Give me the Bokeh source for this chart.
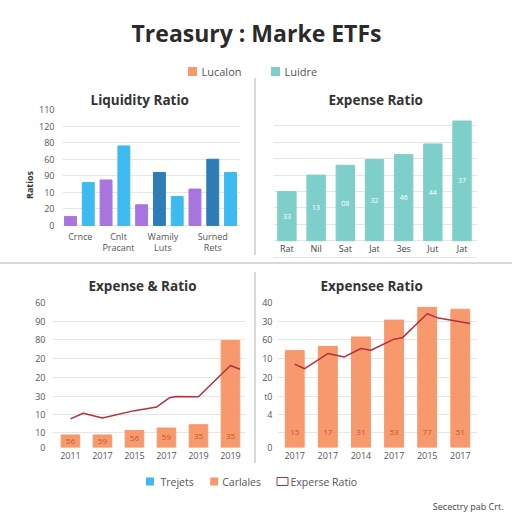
from bokeh.plotting import figure
from bokeh.layouts import column, row
from bokeh.models import FixedTicker, SingleIntervalTicker, Range1d, ColumnDataSource, Spacer
from bokeh.embed import file_html
from bokeh.resources import INLINE
from bokeh.core.properties import value

# ---------------- data ----------------
chart_title = "Treasury : Marke ETFs"
top_legend_labels = ["Lucalon", "Luidre"]

liq_title = "Liquidity Ratio"
liq_values = [11, 52, 55, 96, 25, 64, 35, 44, 80, 64]
liq_kinds = ["p", "b", "p", "b", "p", "d", "b", "p", "d", "b"]
liq_cat_labels = ["Crnce", "Cnlt\nPracant", "Wamily\nLuts", "Surned\nRets"]
liq_cat_pos = [1.55, 3.7, 6.2, 9.0]
liq_tick_values = [0, 20, 40, 60, 80, 100, 120, 140]
liq_tick_labels = ["0", "20", "10", "90", "60", "80", "120", "110"]
liq_axis_label = "Ratios"

exp_title = "Expense Ratio"
exp_months = ["Rat", "Nil", "Sat", "Jat", "3es", "Jut", "Jat"]
exp_values = [60, 80, 92, 99, 105, 118, 146]
exp_bar_labels = ["33", "13", "08", "32", "46", "44", "37"]

bl_title = "Expense & Ratio"
bl_years = ["2011", "2017", "2015", "2017", "2019", "2019"]
bl_bars = [6.7, 6.7, 9.1, 10.4, 12.2, 57.2]
bl_bar_labels = ["56", "59", "56", "59", "35", "35"]
bl_line_x = [0, 0.4, 1, 2, 2.7, 3.1, 3.3, 4, 5, 5.3]
bl_line_y = [15.3, 18.3, 15.8, 19.7, 21.7, 26.6, 27.3, 27.1, 43.8, 41.8]
low_tick_values = [0, 8, 17.5, 27.5, 37.5, 47.5, 57.5, 67.5, 77.5]
bl_tick_labels = ["0", "10", "10", "30", "20", "20", "80", "90", "60"]

br_title = "Expensee Ratio"
br_years = ["2017", "2017", "2014", "2017", "2015", "2017"]
br_bars = [51.8, 54, 59.1, 68.1, 74.9, 73.9]
br_bar_labels = ["15", "17", "31", "53", "77", "51"]
br_line_x = [0, 0.3, 1, 1.5, 2, 2.3, 3, 3.25, 4, 4.3, 5.3]
br_line_y = [44.6, 42.1, 50.2, 48.4, 52.9, 52.0, 57.9, 58.6, 71.5, 69.4, 66.3]
br_tick_labels = ["0", "", "4", "t0", "20", "10", "60", "30", "40"]

bottom_legend_labels = ["Trejets", "Carlales", "Experse Ratio"]
source_note = "Secectry pab Crt."

# ---------------- styles ----------------
FONT = "Open Sans"
GRID = "#e6e6e6"
SEP = "#d9d9d9"
PURPLE = "#a874e0"
BLUE = "#3dbaf0"
DARKBLUE = "#2e7db6"
TEAL = "#7ecfca"
ORANGE = "#f7996c"
LINE = "#b3303f"
kind_colors = {"p": PURPLE, "b": BLUE, "d": DARKBLUE}


def base_fig(w, h, xr, yr, ml, mr, mt, mb):
    p = figure(width=w, height=h, x_range=Range1d(*xr), y_range=Range1d(*yr),
               min_border_left=ml, min_border_right=mr,
               min_border_top=mt, min_border_bottom=mb,
               output_backend="svg", toolbar_location=None)
    p.outline_line_color = None
    p.border_fill_color = "white"
    p.background_fill_color = "white"
    p.xgrid.grid_line_color = None
    p.ygrid.grid_line_color = GRID
    p.ygrid.grid_line_width = 1
    for ax in p.axis:
        ax.axis_line_color = None
        ax.major_tick_line_color = None
        ax.minor_tick_line_color = None
        ax.major_tick_out = 0
        ax.major_tick_in = 0
        ax.major_label_text_font = FONT
        ax.major_label_text_font_size = "9px"
        ax.major_label_text_color = "#555555"
    return p


def set_title(p, text, offset, standoff):
    p.title.text = text
    p.title.align = "left"
    p.title.offset = offset
    p.title.standoff = standoff
    p.title.text_font = FONT
    p.title.text_font_size = "13.5px"
    p.title.text_font_style = "bold"
    p.title.text_color = "#333333"


def blank_fig(w, h, xr, yr):
    p = figure(width=w, height=h, x_range=Range1d(*xr), y_range=Range1d(*yr),
               min_border_left=0, min_border_right=0,
               min_border_top=0, min_border_bottom=0,
               output_backend="svg", toolbar_location=None)
    p.axis.visible = False
    p.grid.visible = False
    p.outline_line_color = None
    p.background_fill_color = "white"
    p.border_fill_color = "white"
    return p


# ---------------- header ----------------
hdr = blank_fig(512, 78, (0, 512), (0, 78))
hdr.text(x=[256], y=[46], text=[chart_title], text_align="center", text_baseline="middle",
         text_font=value(FONT), text_font_size="23px", text_font_style="bold",
         text_color="#2a2a2a")
hdr.scatter(x=[192, 275], y=[7, 7], marker="square", size=9,
            color=[ORANGE, TEAL], line_color=None)
hdr.text(x=[201, 284], y=[7, 7], text=top_legend_labels, text_align="left",
         text_baseline="middle", text_font=value(FONT), text_font_size="11px",
         text_color="#555555")

# ---------------- top-left: Liquidity Ratio ----------------
# frame runs lower than the zero line so that the axis (fixed at 0) has room for its labels
tl = base_fig(254, 184, (0.55, 10.56), (-42.2, 140), 62, 14, 31, 2)
set_title(tl, liq_title, 28, 2)
liq_src = ColumnDataSource(dict(x=list(range(1, len(liq_values) + 1)), top=liq_values,
                                color=[kind_colors[k] for k in liq_kinds]))
tl.vbar(x="x", top="top", width=0.67, color="color", source=liq_src)
tl.yaxis.ticker = FixedTicker(ticks=liq_tick_values)
tl.yaxis.major_label_overrides = dict(zip(liq_tick_values, liq_tick_labels))
tl.yaxis.major_label_standoff = 8
tl.yaxis.axis_label = liq_axis_label
tl.yaxis.axis_label_text_font = FONT
tl.yaxis.axis_label_text_font_size = "9px"
tl.yaxis.axis_label_text_font_style = "bold"
tl.yaxis.axis_label_text_color = "#333333"
tl.yaxis.axis_label_standoff = 0
tl.xaxis.fixed_location = 0
tl.xaxis.ticker = FixedTicker(ticks=liq_cat_pos)
tl.xaxis.major_label_overrides = dict(zip(liq_cat_pos, liq_cat_labels))
tl.xaxis.major_label_standoff = 4
tl.xaxis.major_label_text_line_height = 0.9

# ---------------- top-right: Expense Ratio ----------------
tr = base_fig(256, 184, (-0.46, 6.53), (-24.1, 160), 17, 35, 31, 2)
set_title(tr, exp_title, 55, 2)
exp_x = list(range(len(exp_values)))
tr.vbar(x=exp_x, top=exp_values, width=0.63, color=TEAL)
tr.text(x=exp_x, y=[v / 2 for v in exp_values], text=exp_bar_labels, text_align="center",
        text_baseline="middle", text_font=value(FONT), text_font_size="7px",
        text_color="white")
tr.yaxis.visible = False
tr.yaxis.ticker = SingleIntervalTicker(interval=20, num_minor_ticks=0)
tr.xaxis.fixed_location = 0
tr.xaxis.ticker = FixedTicker(ticks=exp_x)
tr.xaxis.major_label_overrides = dict(zip(exp_x, exp_months))
tr.xaxis.major_label_standoff = 1
tr.xaxis.major_label_text_color = "#444444"

# ---------------- bottom-left: Expense & Ratio ----------------
bl = base_fig(254, 202, (-0.56, 5.47), (0, 77.5), 52, 9, 38, 19)
set_title(bl, bl_title, 36, 16)
bl_x = list(range(len(bl_bars)))
bl.vbar(x=bl_x, top=bl_bars, width=0.58, color=ORANGE)
bl.text(x=bl_x, y=[min(v / 2, 6) for v in bl_bars], text=bl_bar_labels, text_align="center",
        text_baseline="middle", text_font=value(FONT), text_font_size="8px",
        text_color="#b85a38")
bl.line(bl_line_x, bl_line_y, color=LINE, line_width=1.5)
bl.yaxis.ticker = FixedTicker(ticks=low_tick_values)
bl.yaxis.major_label_overrides = dict(zip(low_tick_values, bl_tick_labels))
bl.yaxis.major_label_standoff = 7
bl.xaxis.ticker = FixedTicker(ticks=bl_x)
bl.xaxis.major_label_overrides = dict(zip(bl_x, bl_years))
bl.xaxis.major_label_standoff = 4

# ---------------- bottom-right: Expensee Ratio ----------------
br = base_fig(256, 202, (-0.52, 5.52), (0, 77.5), 21, 35, 38, 19)
set_title(br, br_title, 43, 16)
br_x = list(range(len(br_bars)))
br.vbar(x=br_x, top=br_bars, width=0.57, color=ORANGE)
br.text(x=br_x, y=[8] * len(br_bars), text=br_bar_labels, text_align="center",
        text_baseline="middle", text_font=value(FONT), text_font_size="8px",
        text_color="#b85a38")
br.line(br_line_x, br_line_y, color=LINE, line_width=1.5)
br.yaxis.ticker = FixedTicker(ticks=low_tick_values)
br.yaxis.major_label_overrides = dict(zip(low_tick_values, br_tick_labels))
br.yaxis.major_label_standoff = 5
br.xaxis.ticker = FixedTicker(ticks=br_x)
br.xaxis.major_label_overrides = dict(zip(br_x, br_years))
br.xaxis.major_label_standoff = 4

# ---------------- separators ----------------
vsep_top = Spacer(width=2, height=177, styles={"background-color": SEP})
vsep_bot = column(Spacer(width=2, height=8),
                  Spacer(width=2, height=191, styles={"background-color": SEP}))
hsep = Spacer(width=512, height=2, styles={"background-color": SEP})

# ---------------- footer ----------------
ftr = blank_fig(512, 46, (0, 512), (0, 46))
ftr.scatter(x=[149.5, 213.7], y=[31, 31], marker="square", size=8,
            color=[BLUE, ORANGE], line_color=None)
ftr.rect(x=[282], y=[31], width=11, height=8, fill_color="white", line_color=LINE,
         line_width=1)
ftr.text(x=[160, 221.7, 290], y=[31, 31, 31], text=bottom_legend_labels, text_align="left",
         text_baseline="middle", text_font=value(FONT), text_font_size="10.5px",
         text_color="#555555")
ftr.text(x=[503], y=[6], text=[source_note], text_align="right", text_baseline="middle",
         text_font=value(FONT), text_font_size="9px", text_color="#444444")

layout = column(hdr, row(tl, vsep_top, tr), hsep, row(bl, vsep_bot, br), ftr)

open("out.html", "w").write(file_html(layout, INLINE))
